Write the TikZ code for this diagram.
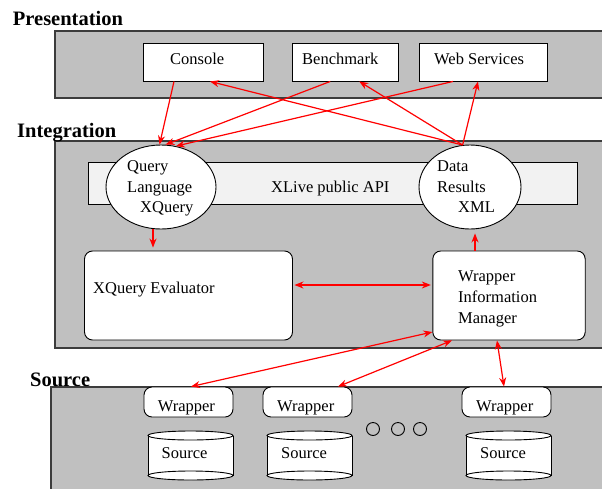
\documentclass[tikz,border=0pt]{standalone}
\usepackage{fontspec}
\setmainfont{Liberation Serif}
\usetikzlibrary{arrows.meta,shapes.geometric}
\definecolor{panelgray}{HTML}{C0C0C0}
\definecolor{apigray}{HTML}{F2F2F2}
\definecolor{edgegray}{HTML}{3C3C3C}
\begin{document}
\begin{tikzpicture}[x=1pt,y=-1pt,font=\fontsize{16.5}{20}\selectfont,
  panel/.style={draw=edgegray,line width=1.4pt,fill=panelgray},
  box/.style={draw=black,line width=0.9pt,fill=white,inner sep=0pt,rectangle},
  rbox/.style={box,rounded corners=8pt},
  oval/.style={draw=black,line width=0.9pt,fill=white,inner sep=0pt,ellipse},
  cyl/.style={draw=black,line width=0.9pt,fill=white},
  dot/.style={draw=black,line width=0.9pt,circle,inner sep=0pt,minimum size=13pt},
  lbl/.style={anchor=base west,inner sep=0pt},
  title/.style={anchor=base west,inner sep=0pt,font=\fontsize{20.5}{24}\selectfont\bfseries},
  link/.style={draw=red,line width=1.2pt,-{Stealth[length=9pt,width=7pt]}},
  dlink/.style={draw=red,line width=1.2pt,{Stealth[length=9pt,width=7pt]}-{Stealth[length=9pt,width=7pt]}}]
\useasboundingbox (0,0) rectangle (602,488);
\clip (0,0) rectangle (602,488);

% panels
\draw[panel] (55,31) rectangle (615,98);
\draw[panel] (55,141) rectangle (615,348);
\draw[panel] (51,387) rectangle (615,500);
\draw[draw=black,line width=0.9pt,fill=apigray] (88,162) rectangle (577,204);

% titles
\node[title] (tpres) at (12.7,25.5) {Presentation};
\node[title] (tint) at (17,137) {Integration};
\node[title] (tsrc) at (30,386.5) {Source};

% presentation boxes
\node[box,minimum width=120pt,minimum height=38pt] (console) at (203,62) {};
\node[box,minimum width=105.5pt,minimum height=38pt] (bench) at (345.25,62) {};
\node[box,minimum width=128pt,minimum height=38pt] (ws) at (483,62) {};
\node[lbl] (tconsole) at (170,64) {Console};
\node[lbl] (tbench) at (302,64) {Benchmark};
\node[lbl] (tws) at (434,64) {Web Services};

% integration
\node[lbl] (tapi) at (271,192.5) {XLive public API};
\node[oval,minimum width=110pt,minimum height=84pt] (query) at (161,187) {};
\node[oval,minimum width=102pt,minimum height=84pt] (data) at (470,187) {};
\node[lbl] (tq1) at (127,171.5) {Query};
\node[lbl] (tq2) at (127,192.5) {Language};
\node[lbl] (tq3) at (140,212.5) {XQuery};
\node[lbl] (td1) at (437,171.5) {Data};
\node[lbl] (td2) at (437,192.5) {Results};
\node[lbl] (td3) at (458,212.5) {XML};

\node[rbox,minimum width=208pt,minimum height=89pt] (xqe) at (188.5,295.5) {};
\node[rbox,minimum width=152.4pt,minimum height=89pt] (wim) at (509,295.5) {};
\node[lbl] (txqe) at (93,293.5) {XQuery Evaluator};
\node[lbl] (tw1) at (458,281.5) {Wrapper};
\node[lbl] (tw2) at (458,302.5) {Information};
\node[lbl] (tw3) at (458,323) {Manager};

% source layer
\node[rbox,minimum width=89pt,minimum height=30pt] (w1) at (188.5,402) {};
\node[rbox,minimum width=89pt,minimum height=30pt] (w2) at (307.5,402) {};
\node[rbox,minimum width=89pt,minimum height=30pt] (w3) at (506.5,402) {};
\node[lbl] (tww1) at (157.7,411) {Wrapper};
\node[lbl] (tww2) at (277,411) {Wrapper};
\node[lbl] (tww3) at (476,411) {Wrapper};

\foreach \cx in {190.5,309.5,508.5} {
  \fill[white] (\cx-42.5,435.5) rectangle (\cx+42.5,475.5);
  \draw[cyl] (\cx,475.5) ellipse [x radius=42.5, y radius=4.5];
  \draw[line width=0.9pt] (\cx-42.5,435.5) -- (\cx-42.5,475.5) (\cx+42.5,435.5) -- (\cx+42.5,475.5);
  \draw[cyl] (\cx,435.5) ellipse [x radius=42.5, y radius=4.5];
}
\node[lbl] (ts1) at (161.5,458) {Source};
\node[lbl] (ts2) at (281,458) {Source};
\node[lbl] (ts3) at (480,458) {Source};

\node[dot] (dot1) at (373,429) {};
\node[dot] (dot2) at (398,429) {};
\node[dot] (dot3) at (420,429) {};

% connectors
\draw[link] ([xshift=-29pt]console.south) -- (query.92);
\draw[link] ([xshift=-15pt]bench.south) -- (query.84);
\draw[link] ([xshift=-30pt]ws.south) -- (query.70);
\draw[link] (data.100) -- ([xshift=7pt]console.south);
\draw[link] (data.100) -- ([xshift=14pt]bench.south);
\draw[link] (data.100) -- ([xshift=-5pt]ws.south);
\draw[link,shorten >=3pt] ([xshift=-8pt]query.south) -- ([xshift=-35.5pt]xqe.north);
\draw[link,shorten >=4pt] ([xshift=-34pt]wim.north) -- ([xshift=5pt]data.south);
\draw[dlink,shorten <=1.5pt,shorten >=1.5pt] ([yshift=10.5pt]xqe.east) -- ([yshift=10.5pt]wim.west);
\draw[dlink] ([xshift=2.5pt]w1.north) -- ([yshift=-36.5pt]wim.west);
\draw[dlink] ([xshift=30.5pt]w2.north) -- ([xshift=-57pt]wim.south);
\draw[dlink] ([xshift=-2.5pt]w3.north) -- ([xshift=-12pt]wim.south);
\end{tikzpicture}
\end{document}
